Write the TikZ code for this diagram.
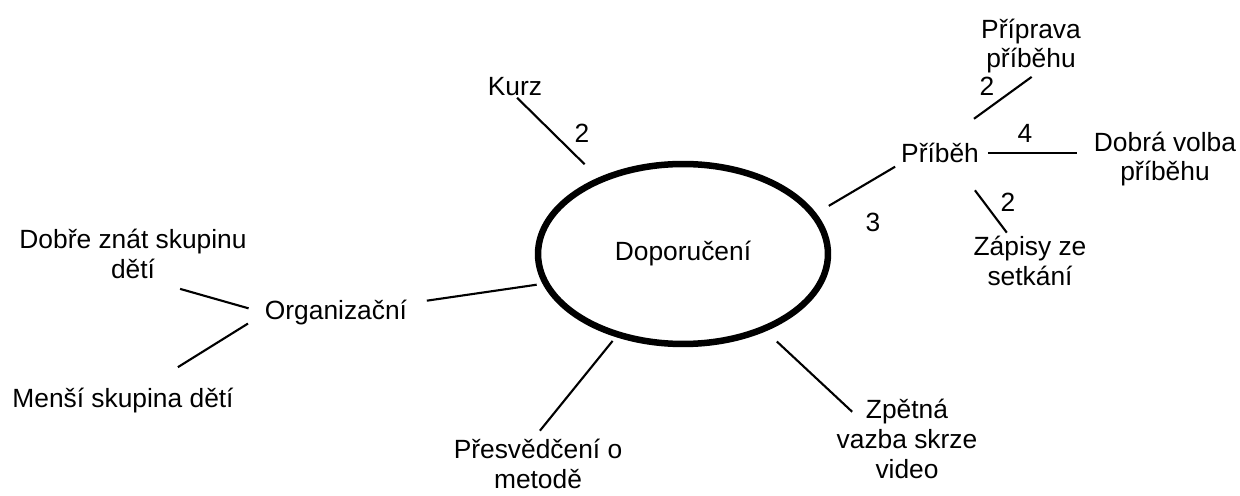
\documentclass[tikz,border=0pt]{standalone}
\usepackage{fontspec}
\setmainfont{Liberation Sans}
\usepackage{tikz}
\usetikzlibrary{shapes.geometric, calc}
\tikzstyle{topicnode} = [draw, ellipse, line width=3.7pt, minimum width=5.8cm, minimum height=3.6cm, inner sep=0pt]
\tikzstyle{leafnode} = [inner sep=0pt, outer sep=0pt, align=center]
\tikzstyle{weight} = [inner sep=0pt, outer sep=0pt]
\tikzstyle{link} = [line width=1.2pt]

\begin{document}
\begin{tikzpicture}[x=0.02cm, y=-0.02cm, font=\fontsize{15}{17}\selectfont]
    \useasboundingbox (0,0) rectangle (1240,496);

    % centre
    \node (dop) [topicnode] at (683,254) {Doporučení};

    % left branch
    \node (kurz) [leafnode] at (515,86.5) {Kurz};
    \node (org) [leafnode] at (336,313) {Organizační};
    \node (dobre) [leafnode] at (133,254) {Dobře znát skupinu\\dětí};
    \node (mensi) [leafnode] at (123,401) {Menší skupina dětí};
    \node (presv) [leafnode] at (538,464) {Přesvědčení o\\metodě};
    \node (zpetna) [leafnode] at (907,439) {Zpětná\\vazba skrze\\video};

    % right branch
    \node (pribeh) [leafnode] at (940,153.3) {Příběh};
    \node (priprava) [leafnode] at (1031,46) {Příprava\\příběhu};
    \node (dobra) [leafnode] at (1165,159) {Dobrá volba\\příběhu};
    \node (zapisy) [leafnode] at (1030,261) {Zápisy ze\\setkání};

    % weights
    \node (wkurz) [weight] at (582,133) {2};
    \node (wpribeh) [weight] at (873,222) {3};
    \node (wpriprava) [weight] at (987,86) {2};
    \node (wdobra) [weight] at (1025,133) {4};
    \node (wzapisy) [weight] at (1008,202) {2};

    \draw [link, shorten <=0.06cm, shorten >=0.38cm] (kurz.south) -- (dop.138);
    \draw [link, shorten <=0.4cm, shorten >=0.12cm] ([yshift=-0.06cm]org.north east) -- (dop.192);
    \draw [link, shorten <=0.74cm, shorten >=0.34cm] ([xshift=0.23cm]dobre.south) -- (org.west);
    \draw [link, shorten <=0.81cm, shorten >=0.4cm] ([xshift=0.41cm]mensi.north) -- (org.west);
    \draw [link, shorten <=0.22cm, shorten >=0.1cm] ([xshift=-0.1cm]presv.north) -- (dop.231);
    \draw [link, shorten >=0.3cm] ([xshift=0.31cm, yshift=-0.25cm]zpetna.north west) -- (dop.-43);
    \draw [link, shorten <=0.14cm, shorten >=0.29cm] (pribeh.south west) -- (dop.17);
    \draw [link, shorten <=0.12cm, shorten >=0.84cm] ([xshift=0.11cm]priprava.south) -- (pribeh.north);
    \draw [link, shorten <=0.18cm, shorten >=0.34cm] (pribeh.east) -- (pribeh.east -| dobra.west);
    \draw [link, shorten <=0.09cm, shorten >=0.68cm] ([xshift=-0.41cm]zapisy.north) -- ([xshift=0.29cm]pribeh.south);
\end{tikzpicture}
\end{document}
